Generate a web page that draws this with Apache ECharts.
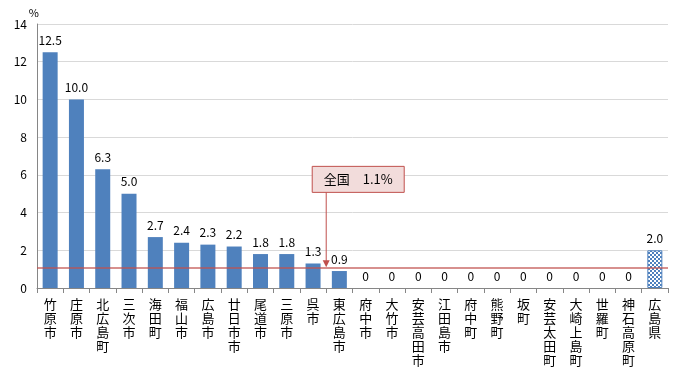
<!DOCTYPE html>
<html>
<head>
<meta charset="utf-8">
<script src="https://cdn.jsdelivr.net/npm/echarts@6/dist/echarts.min.js"></script>
<style>html,body{margin:0;padding:0;background:#fff;}#main{width:700px;height:368px;}</style>
</head>
<body>
<div id="main"></div>
<script>
const categories = ['竹原市','庄原市','北広島町','三次市','海田町','福山市','広島市','廿日市市','尾道市','三原市','呉市','東広島市','府中市','大竹市','安芸高田市','江田島市','府中町','熊野町','坂町','安芸太田町','大崎上島町','世羅町','神石高原町','広島県'];
const values = [12.5,10.0,6.3,5.0,2.7,2.4,2.3,2.2,1.8,1.8,1.3,0.9,0,0,0,0,0,0,0,0,0,0,0,2.0];
const nationalValue = 1.1;
const nationalLabel = '全国　1.1%';
const yTicks = [0,2,4,6,8,10,12,14];

const BLUE = '#4f81bd';
const RED = '#c0504d';

// checker pattern for prefecture bar
const pc = document.createElement('canvas');
pc.width = 4; pc.height = 4;
const pctx = pc.getContext('2d');
pctx.fillStyle = '#ffffff'; pctx.fillRect(0,0,4,4);
pctx.fillStyle = BLUE;
pctx.fillRect(0,0,2,2); pctx.fillRect(2,2,2,2);

const font = '"Noto Sans CJK JP", "Noto Sans", sans-serif';

const data = values.map((v, i) => {
  if (i === values.length - 1) {
    return { value: v, itemStyle: { color: { image: pc, repeat: 'repeat' }, borderColor: BLUE, borderWidth: 1 } };
  }
  return v;
});

const chart = echarts.init(document.getElementById('main'));
chart.setOption({
  animation: false,
  textStyle: { fontFamily: font },
  grid: { left: 37, right: 32, top: 24, bottom: 80 },
  xAxis: {
    type: 'category',
    data: categories,
    axisLine: { lineStyle: { color: '#868686' } },
    axisTick: { show: true, interval: 0, length: 5, lineStyle: { color: '#868686' } },
    axisLabel: {
      interval: 0, color: '#000', fontSize: 13, lineHeight: 14, margin: 9,
      formatter: v => v.split('').join('\n'), verticalAlign: 'top'
    }
  },
  yAxis: {
    type: 'value', min: 0, max: 14, interval: 2,
    name: '%', nameGap: 6,
    nameTextStyle: { color: '#000', fontSize: 11, align: 'right', padding: [0, -2, 0, 0] },
    axisLine: { show: true, lineStyle: { color: '#868686' } },
    axisTick: { show: false },
    axisLabel: { color: '#000', fontSize: 12, margin: 10 },
    splitLine: { lineStyle: { color: '#d9d9d9' } }
  },
  series: [{
    type: 'bar',
    data: data,
    barWidth: 15,
    itemStyle: { color: BLUE },
    label: {
      show: true, position: 'top', distance: 6, color: '#000', fontSize: 12,
      formatter: p => p.value === 0 ? '0' : p.value.toFixed(1)
    },
    markLine: {
      silent: true, symbol: 'none',
      label: { show: false },
      lineStyle: { color: RED, width: 1.5, type: 'solid', opacity: 0.85 },
      data: [{ yAxis: nationalValue }]
    }
  }]
});

// annotation callout positioned from the chart's scales
const c10 = chart.convertToPixel({ gridIndex: 0 }, [10, nationalValue]);
const c11 = chart.convertToPixel({ gridIndex: 0 }, [11, nationalValue]);
const ax = (c10[0] + c11[0]) / 2;
const ay = c10[1];
const boxTop = chart.convertToPixel({ gridIndex: 0 }, [10, 6.45])[1];
const boxH = 26, boxW = 92;
const boxLeft = ax - 14;
chart.setOption({
  graphic: [
    { type: 'rect', shape: { x: boxLeft, y: boxTop, width: boxW, height: boxH },
      style: { fill: '#f2dcdb', stroke: RED, lineWidth: 1 }, z: 100 },
    { type: 'text', x: boxLeft + boxW / 2, y: boxTop + boxH / 2,
      style: { text: nationalLabel, fill: '#000', font: '13px ' + font, align: 'center', verticalAlign: 'middle' }, z: 101 },
    { type: 'line', shape: { x1: ax, y1: boxTop + boxH, x2: ax, y2: ay - 5 },
      style: { stroke: RED, lineWidth: 1 }, z: 100 },
    { type: 'polygon', shape: { points: [[ax - 3.5, ay - 7], [ax + 3.5, ay - 7], [ax, ay]] },
      style: { fill: RED }, z: 100 }
  ]
});
</script>
</body>
</html>
